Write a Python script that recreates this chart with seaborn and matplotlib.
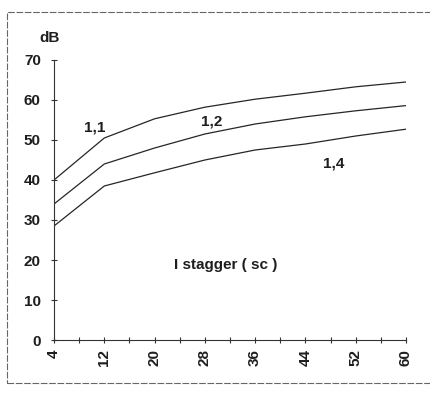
import matplotlib
matplotlib.use("Agg")
import matplotlib.pyplot as plt
import seaborn as sns
import pandas as pd
from matplotlib.patches import Rectangle

stagger = [4, 12, 20, 28, 36, 44, 52, 60]
curve_11 = [40.0, 50.5, 55.3, 58.2, 60.2, 61.7, 63.3, 64.5]
curve_12 = [34.0, 44.0, 48.0, 51.5, 54.0, 55.8, 57.3, 58.6]
curve_14 = [28.5, 38.5, 41.8, 45.0, 47.5, 49.0, 51.0, 52.7]
series_names = ["1,1", "1,2", "1,4"]
x_major = [4, 12, 20, 28, 36, 44, 52, 60]
x_minor = [8, 16, 24, 32, 40, 48, 56]
y_ticks = [0, 10, 20, 30, 40, 50, 60, 70]

sns.set_theme(style="white")
plt.rcParams['font.family'] = ['Liberation Sans', 'DejaVu Sans']

df = pd.DataFrame({
    "x": stagger * 3,
    "dB": curve_11 + curve_12 + curve_14,
    "s": [series_names[0]] * 8 + [series_names[1]] * 8 + [series_names[2]] * 8,
})

fig = plt.figure(figsize=(4.3, 3.93), dpi=100)
ax = fig.add_axes([54/430, 1-340/393, (406-54)/430, (340-60)/393])
sns.lineplot(data=df, x="x", y="dB", units="s", estimator=None, color="#262626",
             linewidth=0.9, ax=ax, legend=False)

fs = 11
ax.set_xlim(4, 60)
ax.set_ylim(0, 70)
ax.set_xticks(x_major)
ax.set_xticks(x_minor, minor=True)
ax.set_xticklabels([str(v) for v in x_major], rotation=90, fontsize=fs, fontweight="bold", color="#1e1e1e")
ax.set_yticks(y_ticks)
ax.set_yticklabels([str(v) for v in y_ticks], fontsize=fs, fontweight="bold", color="#1e1e1e")
ax.tick_params(axis="both", which="both", direction="inout", length=5, width=0.8, color="#333333")
ax.tick_params(axis="x", which="both", bottom=True, pad=4)
ax.tick_params(axis="y", left=True, pad=7)
ax.set_xlabel("")
ax.set_ylabel("")
for sp in ["top", "right"]:
    ax.spines[sp].set_visible(False)
for sp in ["left", "bottom"]:
    ax.spines[sp].set_color("#333333")
    ax.spines[sp].set_linewidth(0.8)

fig.text(50/430, 1-38/393, "dB", ha="center", va="center", fontsize=fs, fontweight="bold", color="#1e1e1e")
fig.text(95/430, 1-127/393, series_names[0], ha="center", va="center", fontsize=fs, fontweight="bold", color="#1e1e1e")
fig.text(212/430, 1-121/393, series_names[1], ha="center", va="center", fontsize=fs, fontweight="bold", color="#1e1e1e")
fig.text(334/430, 1-164/393, series_names[2], ha="center", va="center", fontsize=fs, fontweight="bold", color="#1e1e1e")
fig.text(226/430, 1-265/393, "I stagger ( sc )", ha="center", va="center", fontsize=fs, fontweight="bold", color="#1e1e1e")

fig.patches.append(Rectangle((7/430, 1-383/393), (432-7)/430, (383-12)/393,
                             transform=fig.transFigure, fill=False,
                             edgecolor="#666666", linewidth=0.8, linestyle=(0, (6, 1.5))))

fig.savefig("out.png", dpi=100)
